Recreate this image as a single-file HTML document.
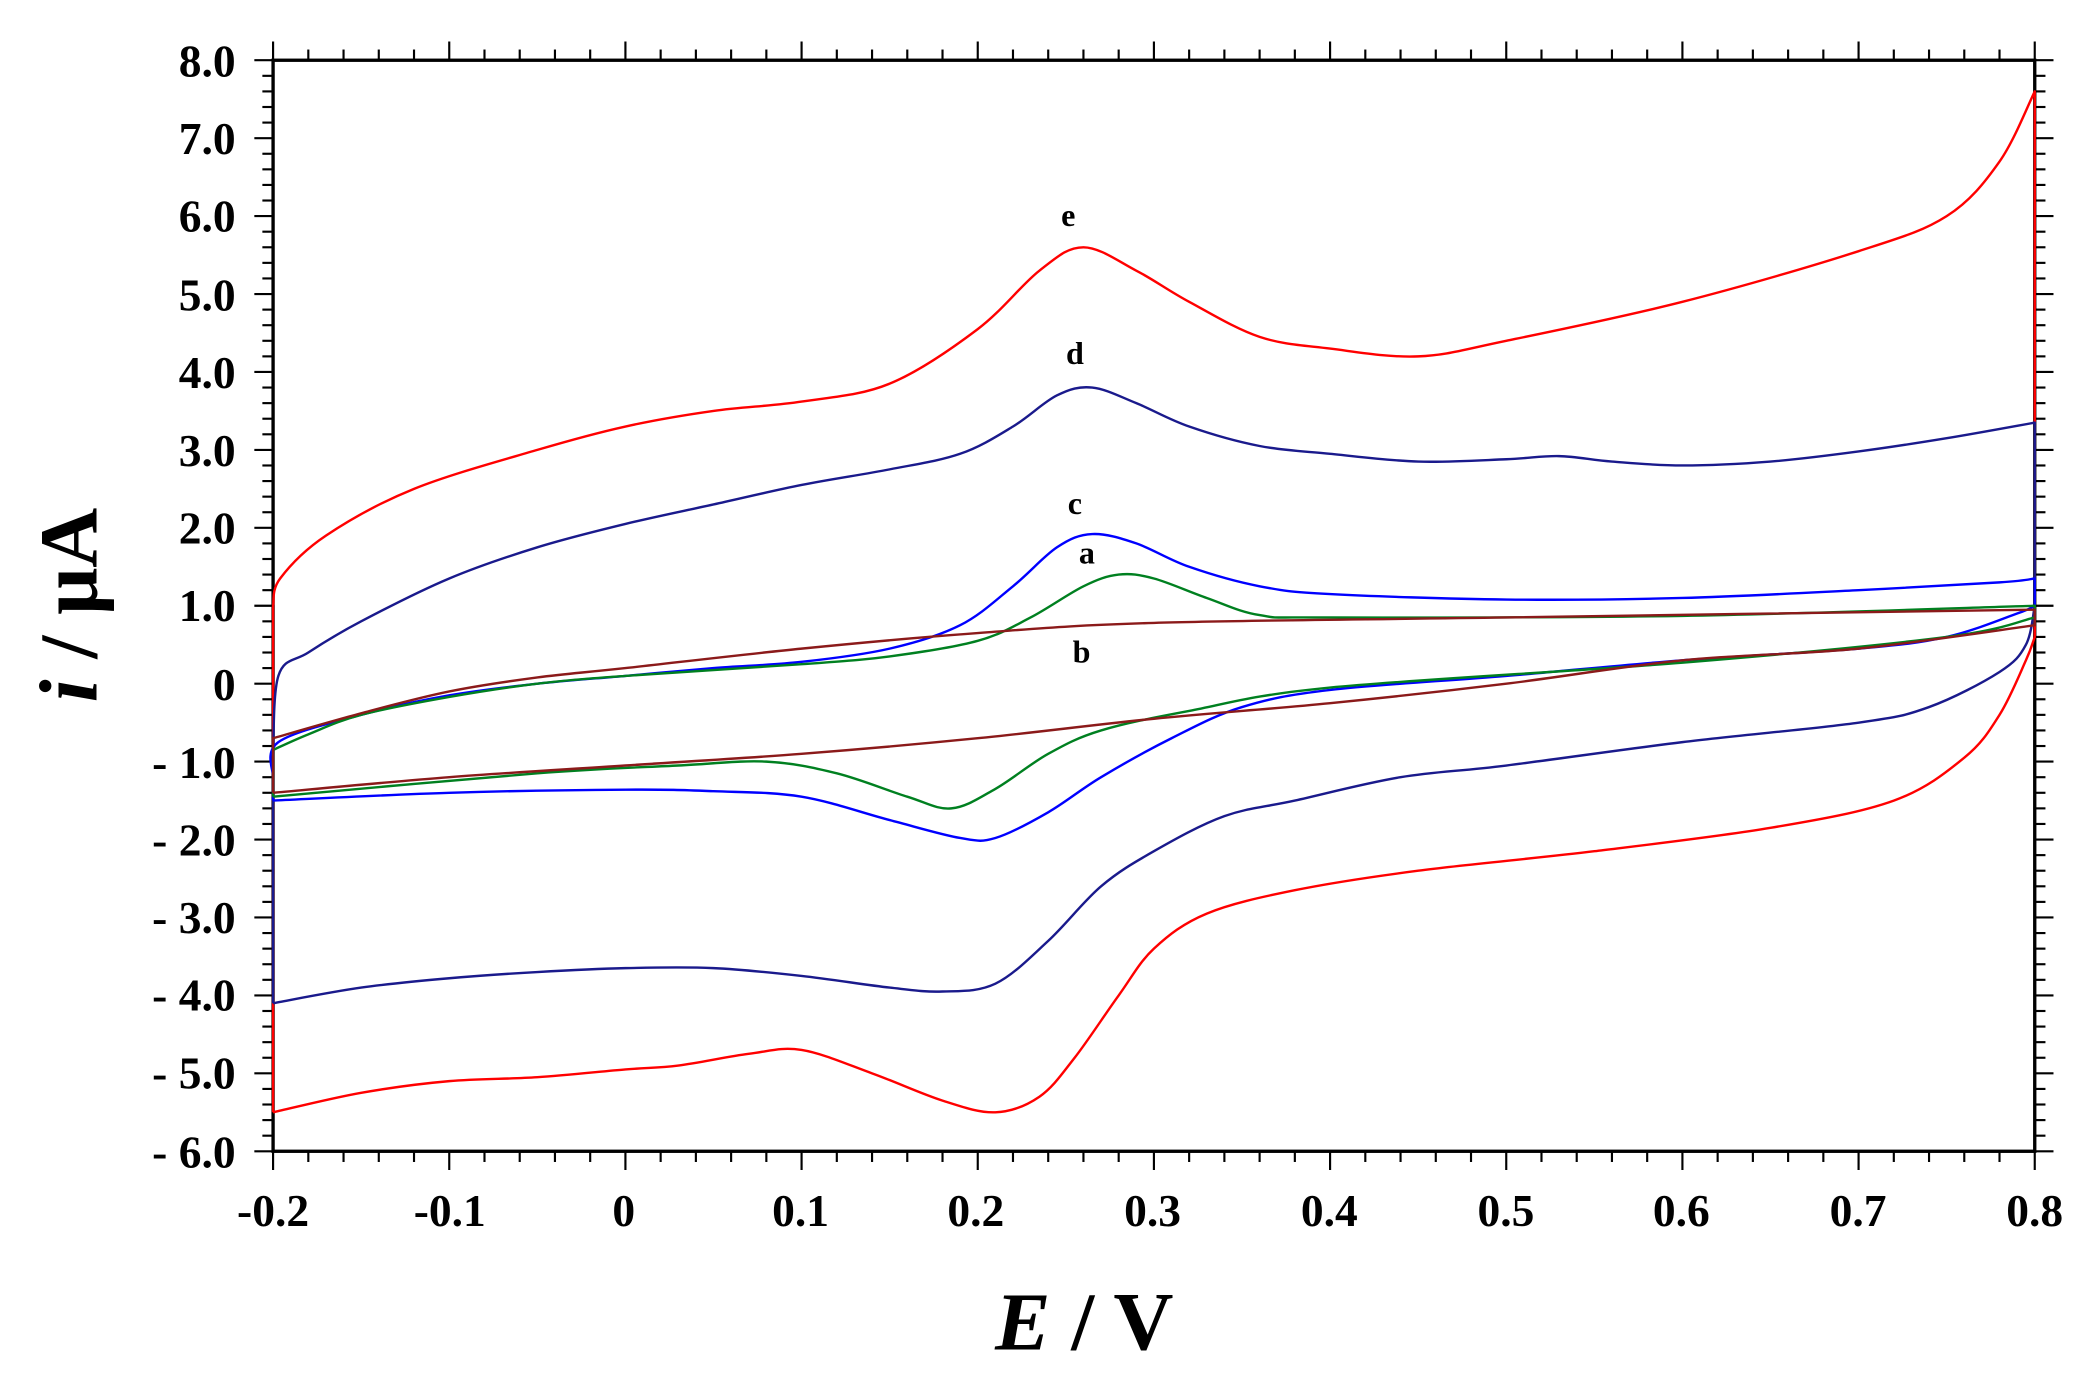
<!DOCTYPE html>
<html><head><meta charset="utf-8"><style>
html,body{margin:0;padding:0;background:#fff;}
svg{display:block;}
text{font-family:"Liberation Serif",serif;font-weight:bold;fill:#000;}
</style></head><body>
<svg id="s" width="2099" height="1400" viewBox="0 0 1568 1045.8" preserveAspectRatio="none" xmlns="http://www.w3.org/2000/svg">
<g id="ticks" stroke="#000" stroke-width="1.6"></g>
<rect x="204" y="45" width="1316" height="815" fill="none" stroke="#000" stroke-width="2.5"/>
<g id="curves" fill="none" stroke-width="1.8" stroke-linejoin="round"></g>
<g font-size="34" text-anchor="end" id="ylab">
<text x="176" y="57">8.0</text><text x="176" y="115">7.0</text><text x="176" y="173">6.0</text>
<text x="176" y="232">5.0</text><text x="176" y="290">4.0</text><text x="176" y="348">3.0</text>
<text x="176" y="406">2.0</text><text x="176" y="464">1.0</text><text x="176" y="523">0</text>
<text x="176" y="581">- 1.0</text><text x="176" y="639">- 2.0</text><text x="176" y="697">- 3.0</text>
<text x="176" y="755">- 4.0</text><text x="176" y="813">- 5.0</text><text x="176" y="872">- 6.0</text>
</g>
<g font-size="34" text-anchor="middle">
<text x="204" y="916">-0.2</text><text x="336" y="916">-0.1</text><text x="466" y="916">0</text>
<text x="598" y="916">0.1</text><text x="729" y="916">0.2</text><text x="861" y="916">0.3</text>
<text x="993" y="916">0.4</text><text x="1125" y="916">0.5</text><text x="1256" y="916">0.6</text>
<text x="1388" y="916">0.7</text><text x="1520" y="916">0.8</text>
</g>
<text x="810" y="1008" font-size="62" text-anchor="middle"><tspan font-style="italic">E</tspan> / V</text>
<text transform="translate(72,452) rotate(-90)" font-size="62" text-anchor="middle"><tspan font-style="italic">i</tspan> / μA</text>
<g font-size="24" text-anchor="middle">
<text x="798" y="169">e</text><text x="803" y="272">d</text><text x="803" y="384">c</text>
<text x="812" y="421">a</text><text x="808" y="495">b</text>
</g>
</svg>
<script>
var X=function(v){return 204+(v+0.2)*1316;},Y=function(i){return 45+(8-i)*58.214;};
var t=document.getElementById('ticks'),h='';
for(var k=0;k<=50;k++){var v=-0.2+k*0.02,x=X(v),L=(k%5==0)?14:8;
h+='<line x1="'+x+'" y1="45" x2="'+x+'" y2="'+(45-L)+'"/><line x1="'+x+'" y1="860" x2="'+x+'" y2="'+(860+L)+'"/>';}
for(var k=0;k<=70;k++){var i=-6+k*0.2,y=Y(i),L=(k%5==0)?14:8;
h+='<line x1="204" y1="'+y+'" x2="'+(204-L)+'" y2="'+y+'"/><line x1="1520" y1="'+y+'" x2="'+(1520+L)+'" y2="'+y+'"/>';}
t.innerHTML=h;
function path(pts){var p=pts.map(function(a){return [X(a[0]),Y(a[1])];});
var n=p.length,d='M'+p[0][0]+','+p[0][1];
function vert(a,b){return a>=0&&b<n&&Math.abs(p[a][0]-p[b][0])<0.01;}
for(var k=0;k<n-1;k++){
 if(vert(k,k+1)){d+='L'+p[k+1][0]+','+p[k+1][1];continue;}
 var p1=p[k],p2=p[k+1];
 var p0=(k>0&&!vert(k-1,k))?p[k-1]:p1;
 var p3=(k+2<n&&!vert(k+1,k+2))?p[k+2]:p2;
 d+='C'+(p1[0]+(p2[0]-p0[0])/6)+','+(p1[1]+(p2[1]-p0[1])/6)+' '+(p2[0]-(p3[0]-p1[0])/6)+','+(p2[1]-(p3[1]-p1[1])/6)+' '+p2[0]+','+p2[1];}
return d;}
var S={
'#ff0000':[[-0.2,-5.5],[-0.2,1.0],[-0.196,1.35],[-0.17,1.9],[-0.12,2.5],[-0.05,3.0],[0,3.3],[0.05,3.5],[0.1,3.62],[0.15,3.85],[0.2,4.55],[0.235,5.3],[0.26,5.6],[0.29,5.3],[0.32,4.9],[0.36,4.45],[0.4,4.3],[0.45,4.2],[0.5,4.4],[0.6,4.9],[0.7,5.55],[0.75,6.0],[0.78,6.7],[0.8,7.6],[0.8,0.6],[0.795,0.3],[0.78,-0.4],[0.76,-0.95],[0.72,-1.5],[0.65,-1.85],[0.55,-2.15],[0.45,-2.4],[0.38,-2.65],[0.33,-2.95],[0.3,-3.4],[0.28,-4.0],[0.255,-4.8],[0.235,-5.3],[0.21,-5.5],[0.18,-5.35],[0.14,-5.0],[0.1,-4.7],[0.07,-4.75],[0.03,-4.9],[0,-4.95],[-0.05,-5.05],[-0.1,-5.1],[-0.15,-5.25],[-0.2,-5.5]],
'#1a1a8c':[[-0.2,-4.1],[-0.2,-1.0],[-0.197,0.1],[-0.18,0.4],[-0.15,0.8],[-0.1,1.35],[-0.05,1.75],[0,2.05],[0.05,2.3],[0.1,2.55],[0.15,2.75],[0.19,2.95],[0.22,3.3],[0.245,3.7],[0.265,3.8],[0.29,3.6],[0.32,3.3],[0.36,3.05],[0.4,2.95],[0.45,2.85],[0.5,2.88],[0.53,2.92],[0.56,2.85],[0.6,2.8],[0.65,2.85],[0.7,2.98],[0.75,3.15],[0.8,3.35],[0.8,1.0],[0.795,0.5],[0.78,0.15],[0.74,-0.3],[0.7,-0.5],[0.6,-0.75],[0.5,-1.05],[0.44,-1.2],[0.38,-1.5],[0.34,-1.7],[0.3,-2.15],[0.27,-2.6],[0.24,-3.3],[0.21,-3.85],[0.18,-3.95],[0.15,-3.9],[0.1,-3.75],[0.05,-3.65],[0,-3.65],[-0.05,-3.7],[-0.1,-3.78],[-0.15,-3.9],[-0.2,-4.1]],
'#0000ff':[[-0.2,-1.5],[-0.2,-1.2],[-0.197,-0.75],[-0.15,-0.4],[-0.1,-0.15],[-0.05,0.0],[0,0.1],[0.05,0.2],[0.1,0.28],[0.15,0.45],[0.19,0.75],[0.22,1.25],[0.245,1.75],[0.265,1.92],[0.29,1.8],[0.32,1.5],[0.36,1.25],[0.4,1.15],[0.5,1.08],[0.6,1.1],[0.7,1.2],[0.78,1.3],[0.8,1.35],[0.8,1.0],[0.79,0.9],[0.75,0.6],[0.7,0.45],[0.6,0.3],[0.5,0.1],[0.4,-0.08],[0.35,-0.3],[0.31,-0.7],[0.27,-1.2],[0.24,-1.65],[0.21,-1.98],[0.19,-1.98],[0.15,-1.75],[0.1,-1.45],[0.05,-1.38],[0,-1.36],[-0.1,-1.4],[-0.2,-1.5]],
'#008020':[[-0.2,-1.45],[-0.2,-0.85],[-0.18,-0.65],[-0.15,-0.4],[-0.1,-0.17],[-0.05,0.0],[0,0.1],[0.1,0.25],[0.15,0.35],[0.2,0.55],[0.23,0.85],[0.26,1.25],[0.28,1.4],[0.3,1.35],[0.33,1.1],[0.36,0.88],[0.4,0.85],[0.6,0.87],[0.8,1.0],[0.8,0.85],[0.75,0.6],[0.6,0.27],[0.4,-0.05],[0.32,-0.35],[0.27,-0.6],[0.24,-0.9],[0.21,-1.35],[0.185,-1.6],[0.16,-1.45],[0.12,-1.15],[0.08,-1.0],[0.03,-1.05],[-0.05,-1.15],[-0.2,-1.45]],
'#8b1a1a':[[-0.2,-1.4],[-0.2,-0.7],[-0.15,-0.38],[-0.1,-0.1],[-0.05,0.08],[0,0.2],[0.1,0.45],[0.2,0.65],[0.3,0.78],[0.5,0.85],[0.8,0.95],[0.8,0.75],[0.7,0.45],[0.6,0.3],[0.5,0.0],[0.4,-0.25],[0.3,-0.45],[0.2,-0.7],[0.1,-0.9],[0,-1.05],[-0.1,-1.2],[-0.2,-1.4]]};
var c='';for(var col in S)c+='<path d="'+path(S[col])+'" stroke="'+col+'"/>';
document.getElementById('curves').innerHTML=c;
</script>
</body></html>
